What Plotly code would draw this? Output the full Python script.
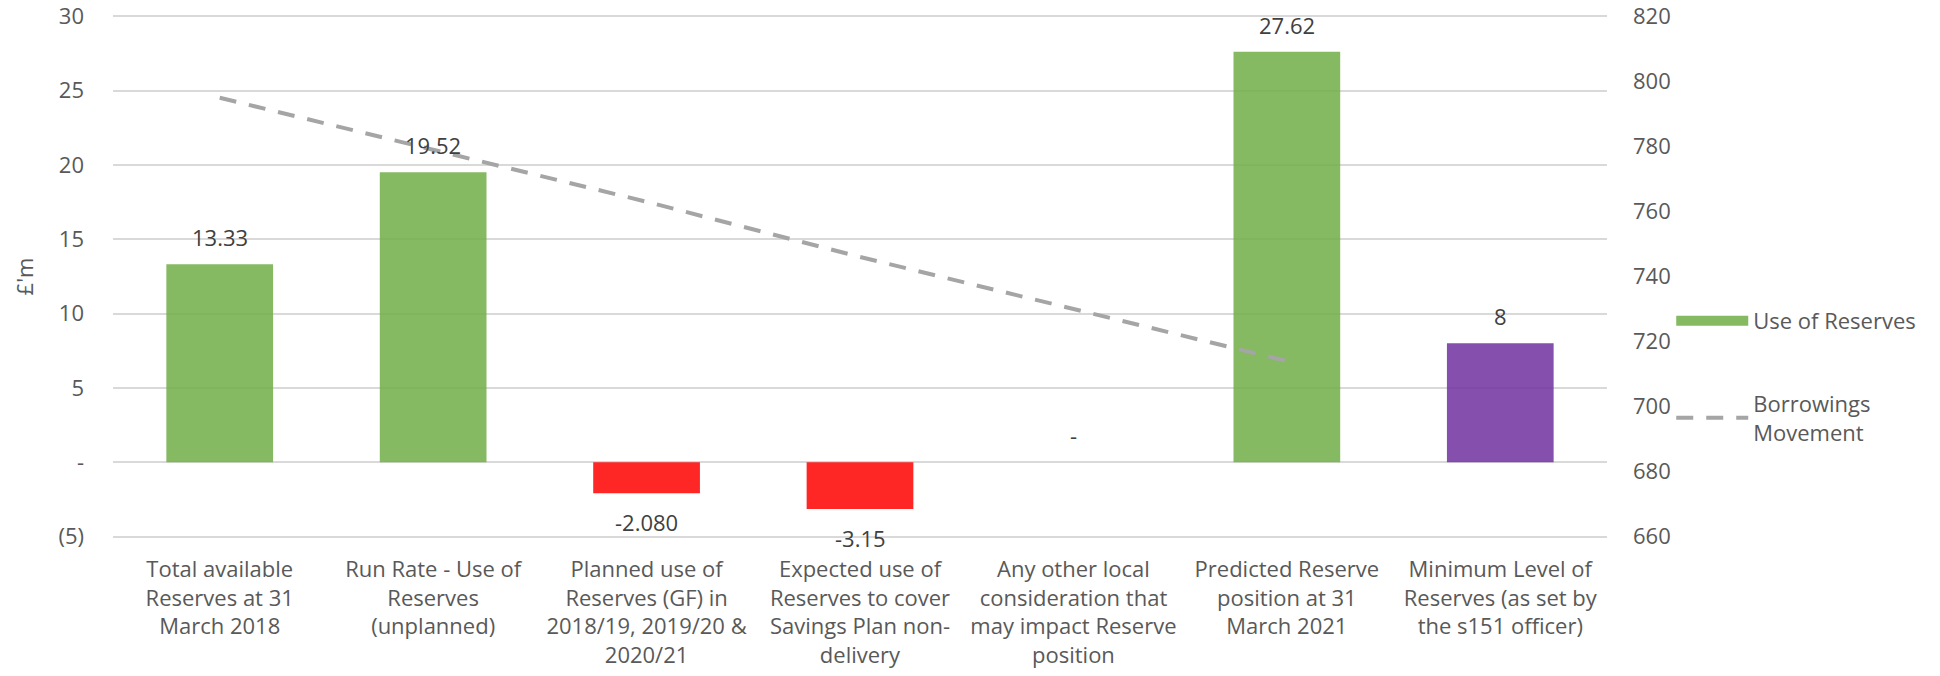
import plotly.graph_objects as go

categories = [
    "Total available<br>Reserves at 31<br>March 2018",
    "Run Rate - Use of<br>Reserves<br>(unplanned)",
    "Planned use of<br>Reserves (GF) in<br>2018/19, 2019/20 &<br>2020/21",
    "Expected use of<br>Reserves to cover<br>Savings Plan non-<br>delivery",
    "Any other local<br>consideration that<br>may impact Reserve<br>position",
    "Predicted Reserve<br>position at 31<br>March 2021",
    "Minimum Level of<br>Reserves (as set by<br>the s151 officer)",
]
reserves = [13.33, 19.52, -2.08, -3.15, 0, 27.62, 8]
reserve_labels = ["13.33", "19.52", "-2.080", "-3.15", "-", "27.62", "8"]
borrow_categories = categories[:6]
borrowings = [795, 779, 763, 746, 730, 714]

left_tickvals = [-5, 0, 5, 10, 15, 20, 25, 30]
left_ticktext = ["(5)", "-", "5", "10", "15", "20", "25", "30"]
right_tickvals = [660, 680, 700, 720, 740, 760, 780, 800, 820]

GREEN = "rgba(112,173,71,0.85)"
RED = "rgba(255,0,0,0.85)"
PURPLE = "rgba(112,48,160,0.85)"
bar_colors = [GREEN, GREEN, RED, RED, GREEN, GREEN, PURPLE]

FONT = "Open Sans"
GREY = "#595959"
FS = 22

fig = go.Figure()
fig.add_trace(go.Bar(
    x=categories, y=reserves, marker=dict(color=bar_colors, line=dict(width=0)),
    showlegend=False, name="Use of Reserves", yaxis="y",
))
fig.add_trace(go.Scatter(
    x=[None], y=[None], mode="lines", name="Use of Reserves",
    line=dict(color=GREEN, width=15), legendgroup="a", showlegend=True,
))
fig.add_trace(go.Scatter(
    x=borrow_categories, y=borrowings, mode="lines", name="Borrowings<br>Movement",
    line=dict(color="#A5A5A5", width=4, dash="17px,13px"), yaxis="y2",
    legendgroup="b",
))

for c, v, t in zip(categories, reserves, reserve_labels):
    fig.add_annotation(
        x=c, y=v, xref="x", yref="y", text=t, showarrow=False,
        yanchor="middle", yshift=27 if v >= 0 else -29,
        font=dict(family=FONT, size=FS, color="#404040"),
    )

fig.update_layout(
    width=1940, height=676,
    margin=dict(l=113, r=333, t=15, b=138, autoexpand=False),
    paper_bgcolor="white", plot_bgcolor="white",
    bargap=0.5,
    font=dict(family=FONT, size=FS, color=GREY),
    xaxis=dict(
        categoryorder="array", categoryarray=categories,
        showgrid=False, showline=False, zeroline=False, ticks="",
        tickfont=dict(family=FONT, size=FS, color=GREY), ticklabelstandoff=16,
        range=[-0.5, 6.5], automargin=False,
    ),
    yaxis=dict(
        range=[-5.1, 30.1], tickvals=left_tickvals, ticktext=left_ticktext,
        showgrid=True, gridcolor="#D9D9D9", gridwidth=2, zeroline=False,
        showline=False, ticks="", ticklabelstandoff=28, automargin=False,
        tickfont=dict(family=FONT, size=FS, color=GREY),
        title=dict(text="£'m", font=dict(family=FONT, size=FS, color=GREY), standoff=18),
    ),
    yaxis2=dict(
        range=[659.543, 820.457], tickvals=right_tickvals, overlaying="y", side="right",
        showgrid=False, zeroline=False, showline=False, ticks="",
        ticklabelstandoff=25, automargin=False,
        tickfont=dict(family=FONT, size=FS, color=GREY),
    ),
    legend=dict(
        x=1.043, xanchor="left", y=0.455, yanchor="top",
        font=dict(family=FONT, size=FS, color=GREY),
        itemwidth=72, tracegroupgap=51, bgcolor="rgba(0,0,0,0)",
    ),
)

fig.write_html("out.html")
